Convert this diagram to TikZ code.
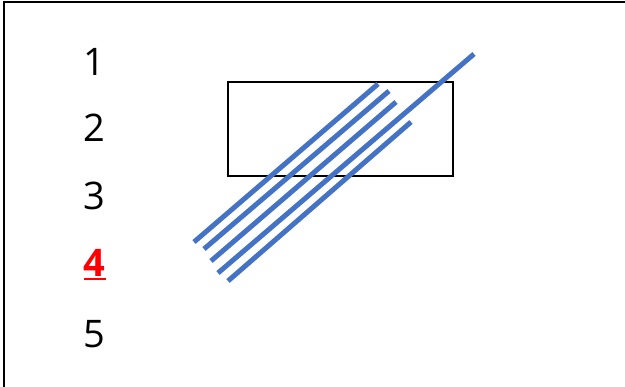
\documentclass[tikz,border=0pt]{standalone}
\usepackage{fontspec}
\setmainfont{Open Sans}
\usepackage{tikz}
\definecolor{lineblue}{RGB}{68,114,196}
\definecolor{markred}{RGB}{255,0,0}
\tikzset{num/.style={inner sep=0pt,anchor=base,font=\fontsize{38}{40}\selectfont},
  stroke/.style={draw=lineblue,line width=5pt},
  box/.style={draw=black,line width=1.6pt}}
\begin{document}
\begin{tikzpicture}[x=1pt,y=-1pt]
\useasboundingbox (0,0) rectangle (625,387);
% frame, only the top and left edges show
\draw[line width=2.2pt] (626,2) -- (4,2) -- (4,388);
% the row numbers
\node[num] (n1) at (94,76) {1};
\node[num] (n2) at (94,142) {2};
\node[num] (n3) at (94,210) {3};
\node[num,text=markred,font=\fontsize{38}{40}\selectfont\bfseries] (n4) at (94,277) {4};
\draw[markred,line width=2pt] (84,279) -- (106,279);
\node[num] (n5) at (94,348) {5};
% rectangle and the five strokes
\draw[box] (228,82) rectangle (453,176);
\draw[stroke] (194,242) -- (378,84);
\draw[stroke] (204,249) -- (389,91);
\draw[stroke] (211,261) -- (396,102);
\draw[stroke] (218,273) -- (474,54);
\draw[stroke] (228,281) -- (411,122);
\end{tikzpicture}
\end{document}
